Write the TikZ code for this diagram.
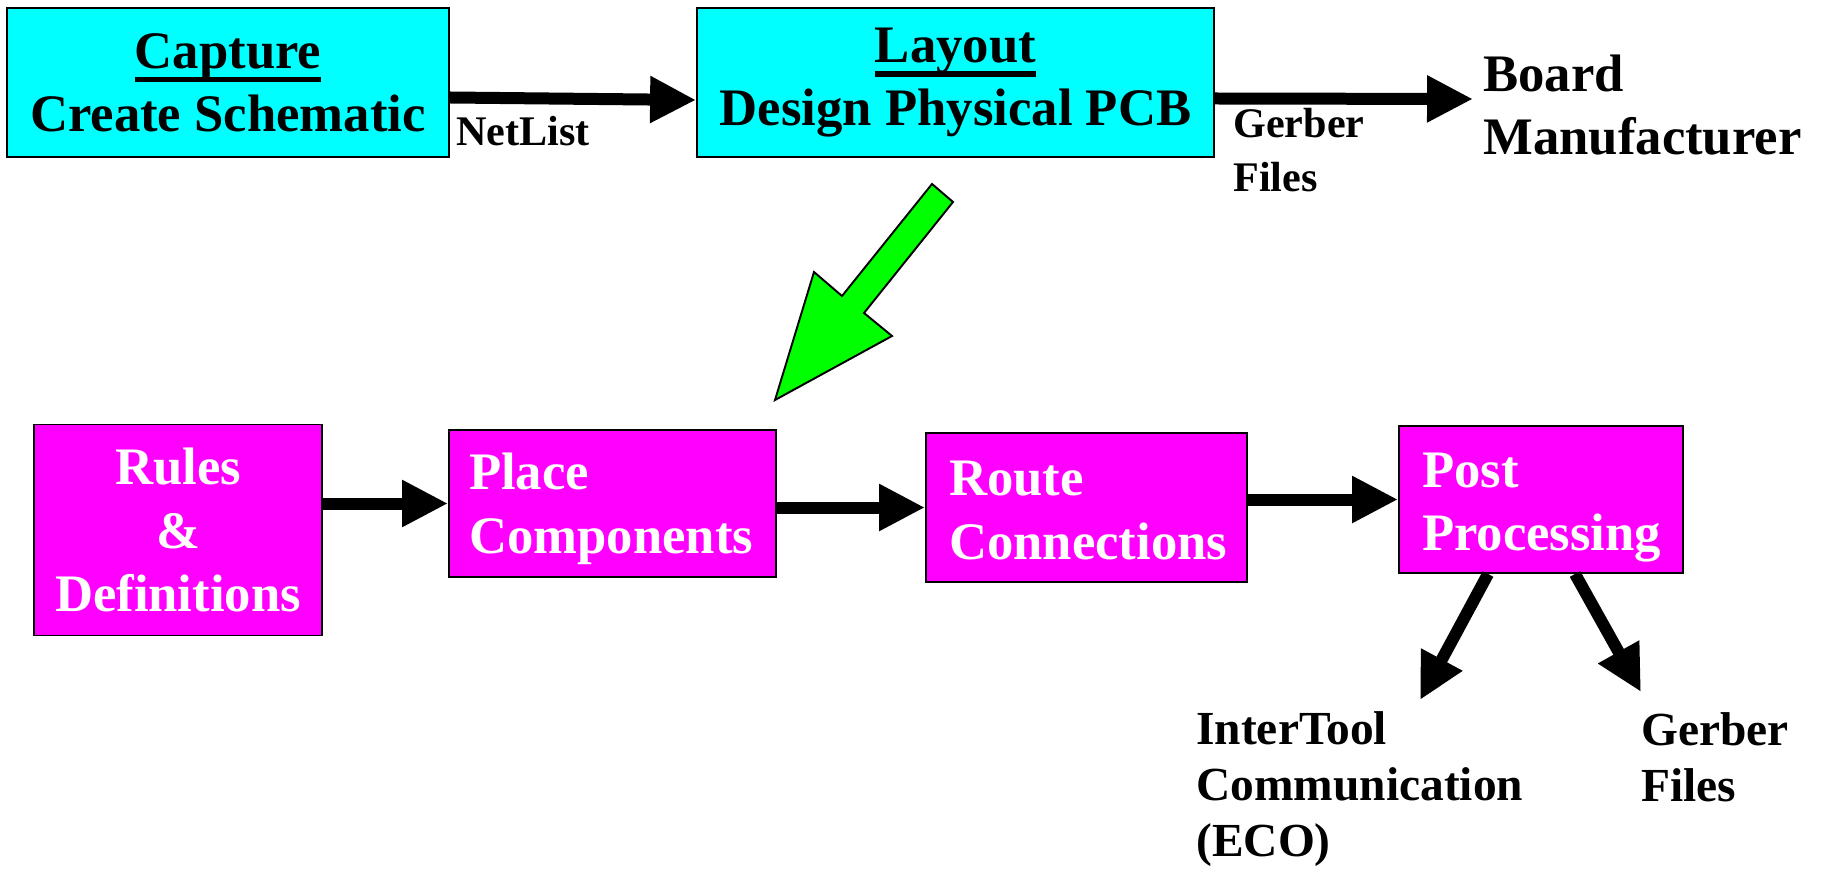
\documentclass[tikz,border=0pt]{standalone}
\usepackage{fontspec}
\setmainfont{Liberation Serif}
\usetikzlibrary{arrows.meta,positioning}
\definecolor{toolTier}{RGB}{0,255,255}
\definecolor{flowTier}{RGB}{255,0,255}
\definecolor{bendArrow}{RGB}{0,255,0}
\newcommand{\boxtitle}[1]{\setbox0\hbox{#1}\rlap{\copy0}\rule[-0.27em]{\wd0}{0.1em}}
\tikzset{
    every node/.append style={align=center},
    box/.style={rectangle,draw=black,line width=1.1pt,inner sep=0pt,
        font=\fontsize{30}{36}\selectfont\bfseries},
    toolbox/.style={box,fill=toolTier},
    flowbox/.style={box,fill=flowTier,text=white},
    arr/.style={-{Triangle[length=0.92cm,width=0.88cm]},line width=0.24cm},
    lbl/.style={font=\fontsize{24}{31}\selectfont\bfseries,align=left,inner sep=0pt},
    result/.style={font=\fontsize{27}{32}\selectfont\bfseries,align=left,inner sep=0pt},
    bigarrow/.style={draw=black,line width=1.1pt,fill=bendArrow,line join=miter}
}
\begin{document}
\begin{tikzpicture}[x=0.02cm,y=-0.02cm]
    \useasboundingbox (0,0) rectangle (1821,871);

    \node[toolbox,minimum width=8.84cm,minimum height=2.98cm] (capture) at (228,82.5)
        {\boxtitle{Capture}\\Create Schematic};
    \node[toolbox,minimum width=10.34cm,minimum height=2.98cm] (layout) at (955.5,82.5)
        {\boxtitle{Layout}\\Design Physical PCB};
    \node[anchor=west,align=left,inner sep=0.2cm,font=\fontsize{30}{36}\selectfont\bfseries]
        (board) at (1473,105) {Board\\Manufacturer};

    \node[flowbox,minimum width=5.76cm,minimum height=4.22cm] (rules) at (178,530)
        {Rules\\\&\\Definitions};
    \node[flowbox,align=left,text width=5.74cm,inner xsep=0.4cm,minimum height=2.94cm]
        (place) at (612.5,503.5) {\rule{0pt}{27pt}Place\\Components};
    \node[flowbox,align=left,text width=5.5cm,inner xsep=0.46cm,minimum height=2.98cm]
        (route) at (1086.5,507.5) {\rule{0pt}{23pt}Route\\Connections};
    \node[flowbox,align=left,text width=4.76cm,inner xsep=0.46cm,minimum height=2.94cm]
        (post) at (1541,499.5) {\rule{0pt}{29pt}Post\\Processing};

    \node[lbl,anchor=west] (netlist) at (456,131) {NetList};
    \node[lbl,anchor=west] (gerberTop) at (1233,150) {Gerber\\Files};
    \node[result,anchor=west] (eco) at (1196,789) {InterTool\\Communication\\(ECO)};
    \node[result,anchor=west] (gerberOut) at (1641,757) {Gerber\\Files};
    \coordinate (ecotip) at (1420,700);
    \coordinate (gerbertip) at (1641,692);

    \draw[arr] ([yshift=-0.3cm]capture.east) -- ([yshift=-0.35cm]layout.west);
    \draw[arr] ([yshift=-0.32cm]layout.east) -- ([yshift=0.12cm]board.west);
    \draw[arr] (rules.east |- place.west) -- (place.west);
    \draw[arr] (place.east |- route.west) -- (route.west);
    \draw[arr] (route.east |- post.west) -- (post.west);
    \draw[arr] ([xshift=-1.06cm]post.south) -- (ecotip);
    \draw[arr] ([xshift=0.68cm]post.south) -- (gerbertip);

    \draw[bigarrow] (932,184) -- (953,202) -- (864,313) -- (892,336) -- (775,400)
        -- (814,272) -- (842,296) -- cycle;
\end{tikzpicture}
\end{document}
